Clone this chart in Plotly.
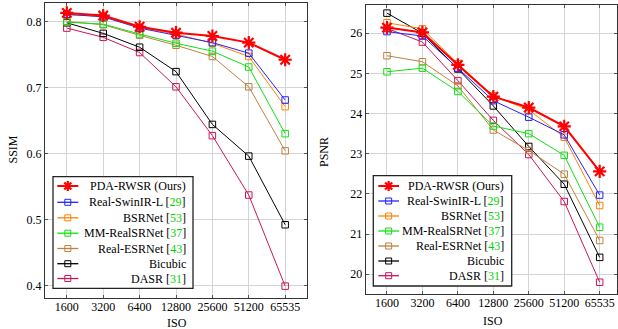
import plotly.graph_objects as go

W, H = 618, 329

ISO = ["1600", "3200", "6400", "12800", "25600", "51200", "65535"]

methods = ["PDA-RWSR (Ours)", "Real-SwinIR-L", "BSRNet", "MM-RealSRNet", "Real-ESRNet", "Bicubic", "DASR"]
cites = ["", "29", "53", "37", "43", "", "31"]
colors = ["#ff0000", "#2222ff", "#ff8000", "#11e011", "#bf8040", "#000000", "#c8175a"]

ssim_pda = [0.813, 0.809, 0.792, 0.783, 0.778, 0.768, 0.742]
ssim_swinir = [0.811, 0.807, 0.790, 0.779, 0.768, 0.752, 0.681]
ssim_bsrnet = [0.810, 0.808, 0.791, 0.781, 0.767, 0.747, 0.671]
ssim_mm = [0.799, 0.796, 0.781, 0.767, 0.755, 0.731, 0.630]
ssim_esrnet = [0.800, 0.795, 0.779, 0.764, 0.747, 0.701, 0.604]
ssim_bicubic = [0.798, 0.782, 0.761, 0.724, 0.644, 0.596, 0.492]
ssim_dasr = [0.790, 0.776, 0.753, 0.701, 0.627, 0.537, 0.399]

psnr_pda = [26.14, 26.02, 25.21, 24.42, 24.15, 23.68, 22.56]
psnr_swinir = [26.04, 25.93, 25.13, 24.32, 23.91, 23.47, 21.97]
psnr_bsrnet = [26.26, 26.11, 25.24, 24.44, 24.09, 23.41, 21.71]
psnr_mm = [25.04, 25.13, 24.55, 23.69, 23.50, 22.96, 21.17]
psnr_esrnet = [25.44, 25.29, 24.69, 23.59, 23.08, 22.49, 20.84]
psnr_bicubic = [26.50, 26.00, 25.11, 24.19, 23.18, 22.24, 20.42]
psnr_dasr = [26.12, 25.78, 24.82, 23.83, 22.98, 21.81, 19.80]

ssim_all = [ssim_pda, ssim_swinir, ssim_bsrnet, ssim_mm, ssim_esrnet, ssim_bicubic, ssim_dasr]
psnr_all = [psnr_pda, psnr_swinir, psnr_bsrnet, psnr_mm, psnr_esrnet, psnr_bicubic, psnr_dasr]

FONT = "Liberation Serif"
CITE = "#00d000"


def fx(x):
    return x / W


def fy(y):
    return 1 - y / H


fig = go.Figure()

for i in reversed(range(len(methods))):
    c = colors[i]
    if i == 0:
        marker = dict(symbol="asterisk-open", size=11, color=c, line=dict(width=2.2, color=c))
        lw = 2
    else:
        marker = dict(symbol="square-open", size=6.5, color=c, line=dict(width=1, color=c))
        lw = 1
    fig.add_trace(go.Scatter(x=ISO, y=ssim_all[i], mode="lines+markers", line=dict(color=c, width=lw),
                             marker=marker, xaxis="x", yaxis="y", showlegend=False))
    fig.add_trace(go.Scatter(x=ISO, y=psnr_all[i], mode="lines+markers", line=dict(color=c, width=lw),
                             marker=marker, xaxis="x2", yaxis="y2", showlegend=False))

common = dict(showgrid=True, gridcolor="#d4d4d4", gridwidth=1, showline=True, linecolor="#333333",
              linewidth=1.2, mirror="ticks", ticks="inside", ticklen=3, tickcolor="#555555",
              tickfont=dict(family=FONT, size=12, color="black"), zeroline=False)

fig.update_layout(
    width=W, height=H, margin=dict(l=0, r=0, t=0, b=0),
    paper_bgcolor="white", plot_bgcolor="white",
    xaxis=dict(domain=[fx(45), fx(307)], anchor="y", type="category", range=[-0.6, 6.6],
               ticklabelstandoff=-3, **common),
    yaxis=dict(domain=[fy(298), fy(3)], anchor="x", range=[0.381, 0.828], tickvals=[0.4, 0.5, 0.6, 0.7, 0.8],
               tickformat=".1f", **common),
    xaxis2=dict(domain=[fx(365.7), fx(616.7)], anchor="y2", type="category", range=[-0.6, 6.48],
                ticklabelstandoff=-3, **common),
    yaxis2=dict(domain=[fy(294.3), fy(4.7)], anchor="x2", range=[19.5, 26.71], dtick=1, **common),
)

shapes = []
annotations = []


def legend(box, rows, line_x, text_right):
    x0, y0, x1, y1 = box
    shapes.append(dict(type="rect", xref="paper", yref="paper", x0=fx(x0), x1=fx(x1), y0=fy(y1), y1=fy(y0),
                       fillcolor="white", line=dict(color="#222222", width=1.3), layer="above"))
    for i, yy in enumerate(rows):
        c = colors[i]
        shapes.append(dict(type="line", xref="paper", yref="paper", x0=fx(line_x[0]), x1=fx(line_x[1]),
                           y0=fy(yy), y1=fy(yy), line=dict(color=c, width=2 if i == 0 else 1.3), layer="above"))
        cx = (line_x[0] + line_x[1]) / 2
        if i == 0:
            r = 5
            d = r * 0.7071
            path = (f"M {fx(cx - r)},{fy(yy)} L {fx(cx + r)},{fy(yy)} "
                    f"M {fx(cx)},{fy(yy - r)} L {fx(cx)},{fy(yy + r)} "
                    f"M {fx(cx - d)},{fy(yy - d)} L {fx(cx + d)},{fy(yy + d)} "
                    f"M {fx(cx - d)},{fy(yy + d)} L {fx(cx + d)},{fy(yy - d)}")
            shapes.append(dict(type="path", xref="paper", yref="paper", path=path,
                               line=dict(color=c, width=2.2), layer="above"))
        else:
            s = 3
            shapes.append(dict(type="rect", xref="paper", yref="paper", x0=fx(cx - s), x1=fx(cx + s),
                               y0=fy(yy + s), y1=fy(yy - s), line=dict(color=c, width=1), layer="above"))
        label = methods[i]
        if cites[i]:
            label += f" [<span style='color:{CITE}'>{cites[i]}</span>]"
        annotations.append(dict(xref="paper", yref="paper", x=fx(text_right), y=fy(yy), xanchor="right",
                                yanchor="middle", text=label, showarrow=False,
                                font=dict(family=FONT, size=12, color="black")))


legend((53, 176.7, 193, 288.3), [186, 202.3, 217.8, 233.2, 248.5, 263.7, 278.5], (57.3, 78.3), 188)
legend((373.3, 175.7, 511.7, 286), [186, 201, 216, 231, 246, 261, 275.7], (378.3, 399), 506)

for txt, x, y, ang in [("SSIM", 12.5, 150, -90), ("PSNR", 324, 152, -90), ("ISO", 176.7, 322.7, 0),
                       ("ISO", 493.3, 321, 0)]:
    annotations.append(dict(xref="paper", yref="paper", x=fx(x), y=fy(y), xanchor="center", yanchor="middle",
                            text=txt, textangle=ang, showarrow=False,
                            font=dict(family=FONT, size=12, color="black")))

fig.update_layout(shapes=shapes, annotations=annotations)

fig.write_html("out.html", config={"displayModeBar": False},
               post_script="document.body.style.margin='0';document.body.style.overflow='hidden';")
